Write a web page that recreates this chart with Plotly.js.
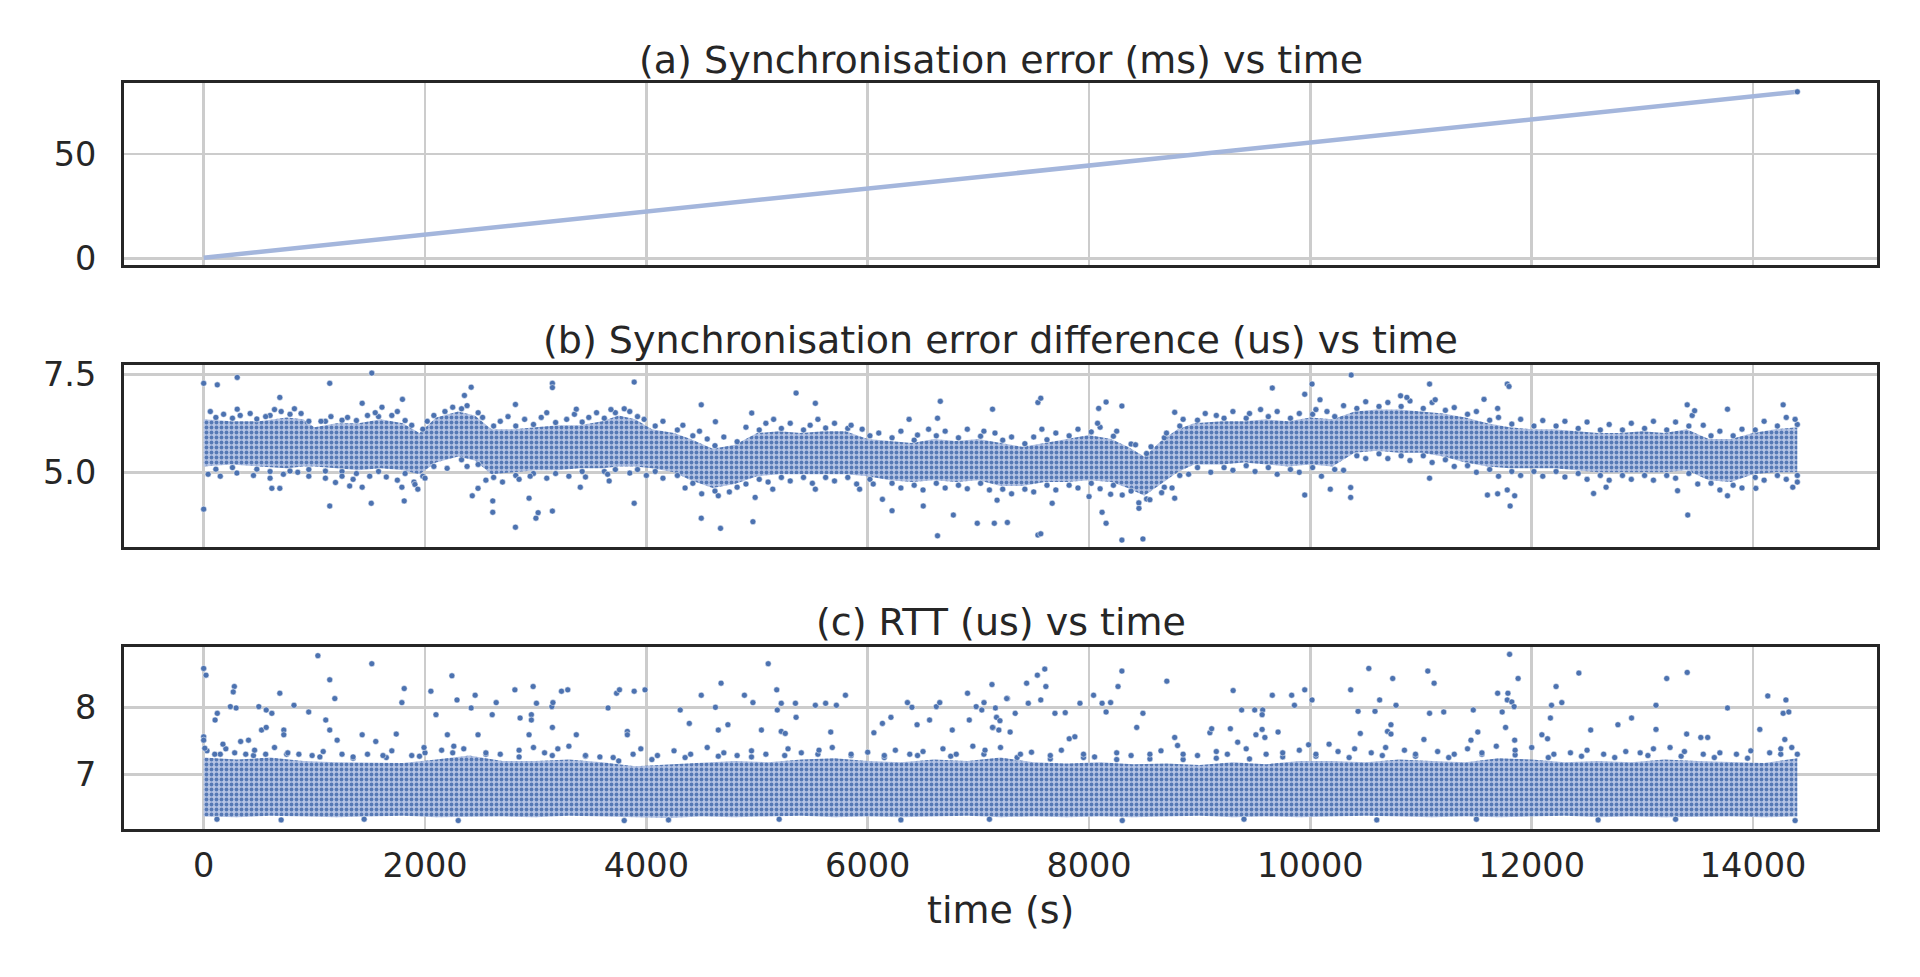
<!DOCTYPE html>
<html>
<head>
<meta charset="utf-8">
<script src="https://cdn.plot.ly/plotly-3.0.1.min.js"></script>
<style>
    html, body { margin: 0; padding: 0; background: #ffffff; }
    #chart { width: 1920px; height: 977px; }
</style>
</head>
<body>
<div id="chart"></div>
<script>
/* ============================================================
   Clock sync run: error, error difference and RTT over 4 hours
   ============================================================ */

const TITLE_A = '(a) Synchronisation error (ms) vs time';
const TITLE_B = '(b) Synchronisation error difference (us) vs time';
const TITLE_C = '(c) RTT (us) vs time';
const X_LABEL = 'time (s)';

const X_TICKS      = [0, 2000, 4000, 6000, 8000, 10000, 12000, 14000];
const X_TICK_TEXT  = ['0', '2000', '4000', '6000', '8000', '10000', '12000', '14000'];

/* ── (a) sync error, ms ── */
const A_TIME = [0, 2000, 4000, 6000, 8000, 10000, 12000, 14400];
const A_ERR  = [0.5, 11.5, 22.6, 33.6, 44.4, 55.3, 66.3, 79.6];

/* ── (b) sync error difference, us: dense core (lo/hi), edge and outliers ── */
const B_T  = [0, 250, 500, 750, 900, 1000, 1200, 1400, 1600, 1800, 1950, 2100, 2300, 2450, 2600, 2800,
              3000, 3200, 3400, 3600, 3750, 3900, 4050, 4250, 4400, 4600, 4800, 5000, 5200, 5400, 5600,
              5800, 6000, 6200, 6400, 6600, 6800, 7000, 7200, 7400, 7600, 7800, 8000, 8200, 8350, 8500,
              8650, 8800, 8950, 9200, 9400, 9600, 9800, 10000, 10200, 10400, 10600, 10800, 11000, 11200,
              11400, 11600, 11800, 12000, 12200, 12400, 12600, 12800, 13000, 13200, 13400, 13600, 13800,
              14000, 14200, 14400];
const B_LO = [5.15, 5.20, 5.15, 5.10, 5.15, 5.15, 5.10, 5.05, 5.10, 5.05, 4.95, 5.25, 5.40, 5.30, 4.95, 5.00,
              5.05, 5.05, 5.10, 5.10, 5.15, 5.15, 5.10, 5.00, 4.80, 4.60, 4.70, 4.90, 4.95, 4.95, 4.95,
              4.95, 4.90, 4.80, 4.75, 4.80, 4.75, 4.80, 4.65, 4.65, 4.75, 4.75, 4.80, 4.75, 4.60, 4.40,
              4.70, 5.00, 5.20, 5.20, 5.25, 5.20, 5.15, 5.20, 5.15, 5.50, 5.55, 5.50, 5.50, 5.40,
              5.25, 5.15, 5.10, 5.10, 5.10, 5.05, 5.00, 5.00, 5.00, 5.00, 5.05, 4.80, 4.75,
              4.95, 5.00, 5.00];
const B_HI = [6.35, 6.30, 6.30, 6.40, 6.35, 6.15, 6.25, 6.25, 6.35, 6.25, 6.00, 6.40, 6.55, 6.45, 6.10, 6.10,
              6.15, 6.20, 6.20, 6.30, 6.45, 6.35, 6.10, 6.00, 5.85, 5.60, 5.70, 6.00, 6.05, 6.00, 6.05,
              6.05, 5.85, 5.80, 5.75, 5.85, 5.80, 5.85, 5.75, 5.65, 5.75, 5.85, 5.95, 5.85, 5.65, 5.40,
              5.80, 6.10, 6.25, 6.30, 6.30, 6.35, 6.30, 6.40, 6.35, 6.55, 6.60, 6.60, 6.55, 6.50,
              6.40, 6.25, 6.15, 6.10, 6.10, 6.05, 6.00, 6.00, 6.05, 6.00, 6.10, 5.85, 5.85,
              6.00, 6.10, 6.15];

/* points sitting right on the edge of the core, top and bottom */
const B_NEAR_T  = [110, 260, 480, 600, 780, 950, 1100, 1250, 1380, 1580, 1820, 1980, 2080, 2330, 2480, 2620,
                   2820, 2980, 3180, 3420, 3620, 3720, 3920, 4080, 4280, 4420, 4620, 4820, 5020, 5220, 5420,
                   5620, 5820, 6020, 6220, 6420, 6620, 6820, 7020, 7220, 7420, 7620, 7820, 8020, 8220, 8380,
                   8520, 8680, 8820, 8980, 9220, 9420, 9620, 9820, 10020, 10220, 10420, 10620, 10820, 11020,
                   11220, 11420, 11620, 11820, 12020, 12220, 12420, 12620, 12820, 13020, 13220, 13420, 13620,
                   13820, 14020, 14220, 14400];
const B_NEAR_UP = [6.40, 6.38, 6.36, 6.45, 6.48, 6.30, 6.30, 6.33, 6.32, 6.42, 6.32, 6.10, 6.45, 6.62, 6.52, 6.18,
                   6.18, 6.22, 6.27, 6.28, 6.38, 6.52, 6.42, 6.18, 6.08, 5.93, 5.68, 5.78, 6.08, 6.12, 6.08,
                   6.13, 6.12, 5.93, 5.88, 5.82, 5.93, 5.88, 5.92, 5.82, 5.73, 5.83, 5.93, 6.03, 5.92, 5.72,
                   5.48, 5.88, 6.18, 6.33, 6.38, 6.38, 6.42, 6.38, 6.48, 6.42, 6.63, 6.68, 6.68, 6.63,
                   6.58, 6.48, 6.33, 6.23, 6.18, 6.18, 6.12, 6.08, 6.08, 6.12, 6.08, 6.18, 5.93,
                   5.93, 6.08, 6.18, 6.22];
const B_NEAR_DN = [5.08, 5.12, 5.08, 5.02, 5.03, 5.07, 5.03, 5.02, 4.97, 5.02, 4.97, 4.90, 5.15, 5.32, 5.20, 4.87,
                   4.92, 4.97, 4.97, 5.02, 5.02, 5.07, 5.07, 5.02, 4.92, 4.72, 4.52, 4.62, 4.82, 4.87, 4.87,
                   4.87, 4.87, 4.82, 4.72, 4.67, 4.72, 4.67, 4.72, 4.57, 4.57, 4.67, 4.67, 4.72, 4.67, 4.52,
                   4.32, 4.62, 4.92, 5.12, 5.12, 5.17, 5.12, 5.07, 5.12, 5.07, 5.42, 5.47, 5.42, 5.42,
                   5.32, 5.17, 5.07, 5.02, 5.02, 5.02, 4.97, 4.92, 4.92, 4.92, 4.92, 4.97, 4.72,
                   4.67, 4.87, 4.92, 4.92];

const B_EDGE_T = [60, 180, 330, 420, 560, 640, 700, 820, 880, 1060, 1150, 1300, 1480, 1550, 1700, 1750, 1880,
                  2020, 2180, 2250, 2380, 2520, 2680, 2750, 2900, 3050, 3100, 3280, 3350, 3480, 3550, 3680,
                  3800, 3850, 3980, 4150, 4330, 4480, 4550, 4700, 4900, 5080, 5150, 5300, 5480, 5550, 5700,
                  5850, 5950, 6100, 6300, 6450, 6550, 6700, 6900, 7050, 7150, 7300, 7500, 7700, 7900, 8100,
                  8250, 8420, 8560, 8700, 8850, 9050, 9150, 9300, 9450, 9550, 9700, 9900, 10050, 10150, 10300,
                  10500, 10700, 10900, 11100, 11300, 11500, 11700, 11900, 12100, 12300, 12500, 12700, 12900,
                  13100, 13300, 13450, 13550, 13700, 13900, 14100, 14300, 14380,
                  40, 150, 300, 450, 600, 720, 850, 950, 1100, 1250, 1350, 1500, 1650, 1750, 1900, 2000,
                  2200, 2380, 2550, 2700, 2850, 2950, 3100, 3300, 3450, 3650, 3850, 4000, 4150, 4350, 4500,
                  4650, 4750, 4900, 5100, 5300, 5500, 5700, 5900, 6050, 6300, 6500, 6700, 6900, 7100, 7300,
                  7500, 7700, 7900, 8100, 8300, 8450, 8550, 8750, 8900, 9100, 9300, 9500, 9700, 9900, 10100,
                  10300, 10500, 10700, 10900, 11100, 11300, 11500, 11700, 11900, 12100, 12300, 12500, 12700,
                  12900, 13100, 13300, 13500, 13700, 13900, 14100, 14300, 14400];
const B_EDGE_V = [6.55, 6.48, 6.45, 6.50, 6.42, 6.60, 6.55, 6.62, 6.50, 6.30, 6.42, 6.40, 6.45, 6.52, 6.45, 6.55, 6.20,
                  6.30, 6.55, 6.66, 6.70, 6.40, 6.30, 6.42, 6.35, 6.40, 6.52, 6.35, 6.48, 6.40, 6.52, 6.60,
                  6.62, 6.55, 6.35, 6.30, 6.20, 6.05, 5.85, 5.90, 6.15, 6.25, 6.35, 6.25, 6.20, 6.35, 6.25,
                  6.20, 6.10, 6.00, 6.05, 5.95, 6.10, 6.05, 6.10, 6.05, 6.00, 5.90, 5.90, 6.00, 6.10, 6.15,
                  6.05, 5.70, 5.65, 6.00, 6.35, 6.50, 6.45, 6.55, 6.50, 6.60, 6.55, 6.50, 6.60, 6.55, 6.70,
                  6.80, 6.78, 6.82, 6.78, 6.65, 6.55, 6.40, 6.35, 6.32, 6.30, 6.28, 6.22, 6.25,
                  6.30, 6.28, 6.45, 6.20, 6.05, 6.10, 6.30, 6.40, 6.35,
                  4.95, 4.90, 4.98, 4.92, 4.85, 4.95, 5.00, 4.90, 4.85, 4.90, 4.82, 4.90, 4.88, 4.80, 4.75, 4.85,
                  5.10, 5.15, 4.80, 4.75, 4.82, 4.90, 4.85, 4.90, 4.88, 4.95, 4.98, 4.92, 4.85, 4.60, 4.45,
                  4.40, 4.50, 4.70, 4.75, 4.78, 4.72, 4.78, 4.70, 4.70, 4.60, 4.55, 4.60, 4.58, 4.55, 4.45,
                  4.50, 4.55, 4.60, 4.58, 4.42, 4.22, 4.30, 4.60, 4.95, 5.00, 5.05, 5.02, 4.95, 5.00, 4.90,
                  5.05, 5.35, 5.35, 5.30, 5.25, 5.15, 5.00, 4.90, 4.92, 4.90, 4.88, 4.82, 4.80,
                  4.82, 4.80, 4.85, 4.70, 4.55, 4.60, 4.80, 4.82, 4.75];

const B_OUT_T = [0, 0, 123, 303, 1139, 1139, 1519, 1432, 1611, 688, 303, 616, 688, 1191, 1319, 1432, 1514,
                 1796, 1812, 1791, 1909, 1935, 2356, 2417, 2427, 2479, 2612, 2612, 2817, 2817, 2940, 3002,
                 3022, 3151, 3151, 3151, 3367, 3403, 3664, 3890, 3890, 4496, 4496, 4624, 4670, 4952, 4963,
                 4983, 5142, 5353, 5527, 5527, 5927, 6133, 6220, 6374, 6502, 6631, 6631, 6656, 6774, 6990,
                 7128, 7169, 7262, 7144, 7538, 7564, 7538, 7564, 7574, 7667, 8000, 8077, 8087, 8118, 8154,
                 8154, 8297, 8297, 8487, 8195, 8451, 8656, 8774, 8774, 9656, 9949, 9949, 10015, 10087, 10369,
                 10364, 10364, 10180, 10815, 10872, 11077, 11128, 11077, 11569, 11692, 11779, 11795, 11600,
                 11692, 11779, 11805, 11846, 12559, 12672, 13405, 13410, 13472, 13769, 13769, 14272, 14359,
                 14025, 13318];
const B_OUT_V = [7.27, 4.06, 7.23, 7.42, 7.27, 4.14, 7.53, 6.76, 6.66, 6.91, 6.61, 4.59, 4.59, 4.74, 4.65, 4.62, 4.21,
                 6.86, 4.27, 4.62, 4.69, 4.57, 6.96, 7.17, 4.40, 4.59, 4.27, 3.98, 3.60, 6.73, 4.34, 3.83,
                 3.97, 7.27, 7.16, 4.01, 6.61, 4.62, 4.78, 7.30, 4.21, 6.72, 3.83, 6.29, 3.57, 6.51, 3.74,
                 4.36, 4.57, 7.02, 6.76, 4.57, 4.57, 4.31, 4.02, 6.35, 4.14, 3.38, 6.38, 6.81, 3.91, 3.70,
                 6.61, 4.29, 3.72, 3.70, 6.78, 6.89, 3.40, 3.43, 6.10, 4.21, 4.38, 6.25, 6.63, 3.98, 3.70,
                 6.79, 6.69, 3.27, 3.30, 4.44, 4.08, 4.48, 4.34, 6.53, 7.15, 4.42, 6.99, 7.25, 6.85, 7.48,
                 4.61, 4.36, 4.57, 6.95, 6.91, 7.25, 6.85, 4.85, 6.86, 6.63, 7.25, 7.19, 4.42,
                 4.45, 4.55, 4.14, 4.40, 4.46, 4.62, 6.72, 3.91, 6.57, 6.61, 4.40, 6.72, 4.62,
                 4.59, 4.53];

/* ── (c) RTT, us: dense core (lo/hi), edge and outliers ── */
const C_T  = [0, 300, 600, 900, 1200, 1500, 1800, 2100, 2400, 2700, 3000, 3300, 3600, 3900, 4200, 4500, 4800,
              5100, 5400, 5700, 6000, 6300, 6600, 6900, 7200, 7500, 7800, 8100, 8400, 8700, 9000, 9300,
              9600, 9900, 10200, 10500, 10800, 11100, 11400, 11700, 12000, 12300, 12600, 12900, 13200,
              13500, 13800, 14100, 14400];
const C_LO = [6.37, 6.36, 6.38, 6.37, 6.36, 6.37, 6.38, 6.36, 6.37, 6.37, 6.36, 6.38, 6.37, 6.36,
              6.35, 6.37, 6.36, 6.37, 6.38, 6.36, 6.37, 6.36, 6.37, 6.38, 6.36, 6.37, 6.36, 6.37,
              6.36, 6.37, 6.38, 6.36, 6.37, 6.36, 6.37, 6.38, 6.37, 6.36, 6.37, 6.36, 6.37, 6.38,
              6.36, 6.37, 6.36, 6.37, 6.37, 6.36, 6.37];
const C_HI = [7.25, 7.22, 7.25, 7.20, 7.18, 7.18, 7.17, 7.22, 7.28, 7.20, 7.20, 7.22, 7.18, 7.12, 7.15, 7.18, 7.20,
              7.18, 7.22, 7.24, 7.20, 7.18, 7.22, 7.20, 7.25, 7.18, 7.16, 7.18, 7.15, 7.16, 7.14, 7.18,
              7.15, 7.20, 7.20, 7.18, 7.22, 7.20, 7.18, 7.24, 7.22, 7.18, 7.20, 7.18, 7.22,
              7.20, 7.18, 7.17, 7.24];

const C_NEAR_T  = [150, 450, 750, 1050, 1350, 1650, 1950, 2250, 2550, 2850, 3150, 3450, 3750, 4050, 4350, 4650,
                   4950, 5250, 5550, 5850, 6150, 6450, 6750, 7050, 7350, 7650, 7950, 8250, 8550, 8850, 9150,
                   9450, 9750, 10050, 10350, 10650, 10950, 11250, 11550, 11850, 12150, 12450, 12750, 13050,
                   13350, 13650, 13950, 14250];
const C_NEAR_UP = [7.30, 7.28, 7.30, 7.26, 7.24, 7.25, 7.27, 7.32, 7.30, 7.26, 7.28, 7.27, 7.20, 7.22, 7.25, 7.27,
                   7.26, 7.28, 7.30, 7.28, 7.25, 7.28, 7.27, 7.30, 7.25, 7.23, 7.25, 7.22, 7.23, 7.22, 7.24,
                   7.23, 7.26, 7.27, 7.25, 7.28, 7.27, 7.25, 7.30, 7.29, 7.25, 7.27, 7.25, 7.28,
                   7.27, 7.25, 7.24, 7.30];

const C_EDGE_T = [30, 100, 200, 280, 380, 460, 560, 640, 760, 860, 980, 1080, 1250, 1350, 1480, 1620, 1700, 1880,
                  2000, 2150, 2260, 2350, 2550, 2680, 2850, 2980, 3080, 3200, 3300, 3450, 3580, 3700, 3880,
                  3950, 4100, 4250, 4400, 4550, 4700, 4820, 4950, 5080, 5280, 5400, 5560, 5680, 5850, 6000,
                  6150, 6250, 6380, 6500, 6680, 6800, 6950, 7060, 7200, 7380, 7480, 7650, 7750, 7950, 8050,
                  8250, 8380, 8550, 8650, 8850, 8980, 9150, 9250, 9420, 9600, 9750, 9900, 10050, 10250, 10400,
                  10550, 10680, 10850, 10950, 11150, 11300, 11420, 11550, 11680, 11850, 12000, 12200, 12350,
                  12500, 12650, 12850, 12980, 13100, 13250, 13380, 13550, 13700, 13850, 13980, 14150, 14250,
                  14350, 14400,
                  120, 700, 1450, 2300, 3800, 4200, 5200, 6300, 7100, 8300, 9400, 10600, 11500, 12600, 13300,
                  14380];
const C_EDGE_V = [7.35, 7.30, 7.38, 7.32, 7.30, 7.36, 7.30, 7.40, 7.32, 7.30, 7.28, 7.34, 7.30, 7.26, 7.30, 7.28, 7.35, 7.28,
                  7.32, 7.36, 7.42, 7.38, 7.32, 7.30, 7.36, 7.40, 7.32, 7.38, 7.42, 7.28, 7.26, 7.25, 7.30,
                  7.38, 7.28, 7.35, 7.30, 7.40, 7.32, 7.28, 7.35, 7.30, 7.38, 7.32, 7.36, 7.40, 7.30, 7.33,
                  7.28, 7.36, 7.30, 7.34, 7.38, 7.30, 7.42, 7.36, 7.40, 7.30, 7.33, 7.28, 7.36, 7.30, 7.26,
                  7.32, 7.28, 7.30, 7.35, 7.30, 7.28, 7.34, 7.30, 7.38, 7.30, 7.32, 7.36, 7.30, 7.34, 7.38,
                  7.32, 7.40, 7.36, 7.30, 7.34, 7.30, 7.38, 7.32, 7.42, 7.36, 7.40, 7.30, 7.32,
                  7.36, 7.30, 7.34, 7.32, 7.38, 7.40, 7.34, 7.30, 7.32, 7.30, 7.35, 7.32, 7.38,
                  7.40, 7.30,
                  6.33, 6.32, 6.33, 6.31, 6.31, 6.32, 6.33, 6.32, 6.33, 6.31, 6.33, 6.32, 6.33, 6.32, 6.33,
                  6.31];

const C_OUT_T = [0, 21, 103, 123, 277, 267, 293, 241, 174, 0, 0, 10, 334, 405, 498, 565, 616, 523, 565, 688,
                 724, 724, 816, 949, 1032, 1103, 1139, 1185, 1139, 1206, 1432, 1519, 1555, 1740, 1791, 1812,
                 1991, 2053, 2099, 2202, 2243, 2289, 2417, 2453, 2479, 2607, 2643, 2812, 2859, 2940, 2961,
                 2961, 2977, 3007, 3146, 3156, 3151, 3233, 3290, 3367, 3654, 3731, 3757, 3828, 3828, 3890,
                 3988, 4306, 4388, 4496, 4624, 4650, 4675, 4737, 4886, 4963, 5040, 5101, 5178, 5183, 5219,
                 5255, 5219, 5347, 5353, 5527, 5620, 5666, 5717, 5799, 6056, 6133, 6210, 6359, 6400, 6446,
                 6559, 6620, 6651, 6764, 6902, 6918, 6980, 7031, 7051, 7123, 7133, 7185, 7262,
                 7154, 7164, 7195, 7128, 7256, 7287, 7333, 7436, 7451, 7533, 7600, 7564, 7610, 7692, 7785,
                 7821, 7872, 7918, 8041, 8118, 8195, 8154, 8262, 8297, 8431, 8487, 8703, 8774, 8800, 9092,
                 9108, 9277, 9302, 9343, 9379, 9497, 9569, 9564, 9508, 9589, 9564, 9708, 9656, 9831, 9856,
                 9949, 10015, 9984, 10169, 10364, 10431, 10451, 10528, 10584, 10626, 10697, 10728, 10728,
                 10744, 10774, 11026, 11061, 11118, 11077, 11205, 11451, 11472, 11513, 11692, 11733, 11764,
                 11779, 11820, 11800, 11785, 11841, 11846, 11877, 12092, 12143, 12169, 12179, 12220, 12272,
                 12426, 12533, 12779, 12902, 13123, 13123, 13220, 13405, 13400, 13528, 13590, 13769, 14061,
                 14133, 14272, 14323, 14297, 14287];
const C_OUT_V = [8.58, 8.48, 7.81, 7.91, 8.31, 8.23, 7.99, 8.01, 7.45, 7.56, 7.51, 7.39, 7.49, 7.51, 8.01, 7.96, 7.91, 7.66, 7.70, 8.21,
                 7.66, 7.59, 8.03, 7.93, 8.77, 7.81, 8.41, 8.13, 7.66, 7.51, 7.59, 8.65, 7.49, 7.60, 8.07, 8.28,
                 7.40, 8.24, 7.89, 7.59, 8.47, 8.11, 7.99, 8.18, 7.59, 7.89, 8.07, 8.26, 7.84, 7.59, 7.89,
                 7.81, 8.31, 8.06, 8.01, 8.07, 7.70, 8.24, 8.26, 7.59, 7.99, 8.21, 8.26, 7.64, 7.59, 8.24,
                 8.26, 7.96, 7.76, 8.18, 8.00, 7.66, 8.36, 7.74, 8.18, 8.07, 7.66, 8.65, 8.26, 7.96, 7.64,
                 7.61, 8.06, 8.06, 7.85, 8.03, 8.06, 7.63, 8.03, 8.18, 7.62, 7.76, 7.85, 8.07, 8.00, 7.74,
                 7.81, 8.01, 8.07, 7.66, 8.21, 7.81, 8.01, 7.96, 8.07, 8.34, 7.70, 7.66, 8.13,
                 7.99, 7.85, 7.80, 7.70, 8.13, 7.63, 7.91, 8.36, 8.06, 8.48, 8.57, 8.11, 8.31, 7.91, 7.92,
                 7.53, 7.56, 8.06, 8.18, 8.06, 8.07, 7.93, 8.31, 8.54, 7.70, 7.91, 8.39, 7.55, 7.43, 7.62,
                 7.68, 7.68, 8.25, 7.48, 7.96, 7.96, 7.96, 7.89, 7.59, 7.55, 7.67, 7.63, 8.18, 8.18, 8.03,
                 8.26, 8.11, 7.44, 7.45, 8.26, 7.94, 7.61, 8.58, 7.94, 8.11, 7.64, 7.60, 7.74,
                 8.43, 8.03, 7.52, 8.54, 8.36, 7.91, 7.93, 7.51, 7.96, 7.63, 8.21, 7.93, 7.70,
                 8.11, 8.08, 8.79, 8.21, 8.01, 7.51, 8.43, 7.59, 7.53, 7.84, 8.03, 8.31, 8.07,
                 8.51, 7.66, 7.74, 7.84, 8.03, 7.67, 8.43, 8.52, 7.60, 7.55, 7.55, 7.99, 7.67,
                 8.17, 7.91, 7.93, 8.11, 7.52];

/* ── styling ── */
const DOT_COLOR = '#4c72b0';
const LINE_A    = '#a4b6dc';
const INK       = '#262626';
const FONT      = 'DejaVu Sans';

/* dense clouds: dotted fill so the core keeps the grainy look of overlapping markers */
const CLOUD_FILL = { shape: '.', bgcolor: '#b6c5e5', fgcolor: '#5679b5', size: 5, solidity: 0.45 };

const DOT = { size: 6, color: DOT_COLOR, line: { color: '#ffffff', width: 0.5 } };

function dots(x, y, ax) {
    return { x, y, xaxis: 'x' + ax, yaxis: 'y' + ax, type: 'scatter', mode: 'markers',
             marker: DOT, hoverinfo: 'skip', showlegend: false };
}

function band(x, lo, hi, ax) {
    const base = { x, xaxis: 'x' + ax, yaxis: 'y' + ax, type: 'scatter', mode: 'lines',
                   line: { width: 0 }, hoverinfo: 'skip', showlegend: false };
    return [
        { ...base, y: lo },
        { ...base, y: hi, fill: 'tonexty', fillcolor: '#8ba2d1', fillpattern: CLOUD_FILL }
    ];
}

const traces = [
    { x: A_TIME, y: A_ERR, xaxis: 'x', yaxis: 'y', type: 'scatter', mode: 'lines',
      line: { color: LINE_A, width: 4.5 }, hoverinfo: 'skip', showlegend: false },
    dots(A_TIME.slice(-1), A_ERR.slice(-1), ''),
    ...band(B_T, B_LO, B_HI, '2'),
    dots(B_NEAR_T, B_NEAR_UP, '2'),
    dots(B_NEAR_T, B_NEAR_DN, '2'),
    dots(B_EDGE_T, B_EDGE_V, '2'),
    dots(B_OUT_T, B_OUT_V, '2'),
    ...band(C_T, C_LO, C_HI, '3'),
    dots(C_NEAR_T, C_NEAR_UP, '3'),
    dots(C_EDGE_T, C_EDGE_V, '3'),
    dots(C_OUT_T, C_OUT_V, '3')
];

const AXIS_BASE = {
    showgrid: true, gridcolor: '#cccccc', gridwidth: 2.5,
    showline: true, mirror: true, linecolor: INK, linewidth: 3,
    zeroline: false, ticks: '', fixedrange: true,
    tickfont: { family: FONT, size: 33.5, color: INK }
};

const X_AXIS = { ...AXIS_BASE, range: [-720, 15120], tickvals: X_TICKS, ticktext: X_TICK_TEXT };
const Y_LABEL_GAP = 18;

function panelTitle(text, y) {
    return { text, xref: 'paper', yref: 'paper', x: 0.5, y, xanchor: 'center', yanchor: 'middle',
             showarrow: false, font: { family: FONT, size: 38, color: INK } };
}

const layout = {
    width: 1920, height: 977,
    margin: { l: 124, r: 43, t: 83, b: 148 },
    paper_bgcolor: '#ffffff', plot_bgcolor: '#ffffff',
    font: { family: FONT, color: INK },
    showlegend: false,
    xaxis:  { ...X_AXIS, anchor: 'y',  showticklabels: false },
    xaxis2: { ...X_AXIS, anchor: 'y2', showticklabels: false },
    xaxis3: { ...X_AXIS, anchor: 'y3', ticklabelstandoff: 5 },
    yaxis:  { ...AXIS_BASE, anchor: 'x',  domain: [0.756, 1],   range: [-3, 83.8],
              tickvals: [0, 50], ticklabelstandoff: Y_LABEL_GAP },
    yaxis2: { ...AXIS_BASE, anchor: 'x2', domain: [0.378, 0.622], range: [3.094, 7.737],
              tickvals: [5.0, 7.5], tickformat: '.1f', ticklabelstandoff: Y_LABEL_GAP },
    yaxis3: { ...AXIS_BASE, anchor: 'x3', domain: [0, 0.244],   range: [6.184, 8.90],
              tickvals: [7, 8], ticklabelstandoff: Y_LABEL_GAP },
    annotations: [
        panelTitle(TITLE_A, 1.0308),
        panelTitle(TITLE_B, 0.6551),
        panelTitle(TITLE_C, 0.2771),
        { text: X_LABEL, xref: 'paper', yref: 'paper', x: 0.5, y: -0.1086,
          xanchor: 'center', yanchor: 'middle', showarrow: false,
          font: { family: FONT, size: 38, color: INK } }
    ]
};

Plotly.newPlot('chart', traces, layout, { displayModeBar: false, staticPlot: true });
</script>
</body>
</html>
